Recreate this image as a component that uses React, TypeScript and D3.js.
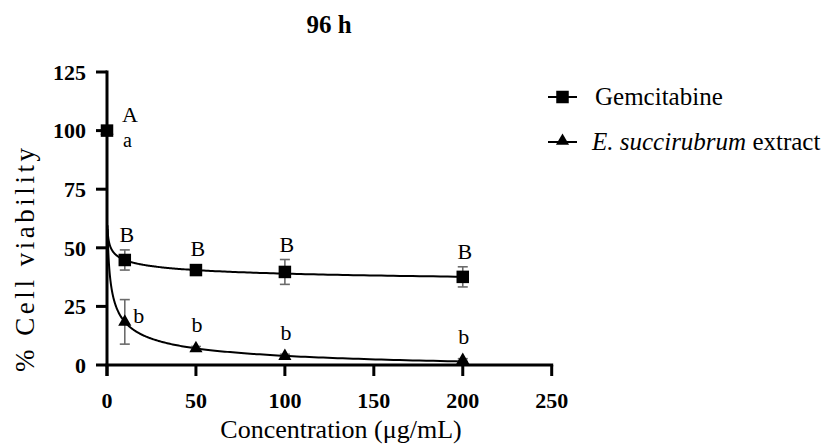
import React from "react";
import * as d3 from "d3";

// ---- data ----
const concentrations = [0, 10, 50, 100, 200];
const gemcitabine = [100, 44.8, 40.5, 39.7, 37.6];
const gemcitabineErr = [0, 4.3, 1.0, 5.3, 4.3];
const extract = [100, 18.4, 7.1, 3.8, 2.1];
const extractErr = [0, 9.5, 0.8, 0.8, 0.6];
const gemLetters = ["A", "B", "B", "B", "B"];
const extLetters = ["a", "b", "b", "b", "b"];
const xTicks = [0, 50, 100, 150, 200, 250];
const yTicks = [0, 25, 50, 75, 100, 125];

// fitted dose-response parameters (bottom, top, IC50, hill slope)
const gemFit = { bottom: 30, top: 100, ic50: 0.063, hill: 0.26 };
const extFit = { bottom: -5, top: 100, ic50: 0.78, hill: 0.49 };

const FONT = "'Liberation Serif', 'Times New Roman', serif";

function hill(p: { bottom: number; top: number; ic50: number; hill: number }, c: number) {
  return p.bottom + (p.top - p.bottom) / (1 + Math.pow(c / p.ic50, p.hill));
}

export default function App() {
  const W = 831;
  const H = 445;
  const x = d3.scaleLinear().domain([0, 250]).range([107, 551.7]);
  const y = d3.scaleLinear().domain([0, 125]).range([365, 72]);

  const samples = d3
    .range(0, 301)
    .map((i) => Math.pow(10, Math.log10(0.3) + (i / 300) * (Math.log10(200) - Math.log10(0.3))));
  const line = d3
    .line<number[]>()
    .x((d) => x(d[0]))
    .y((d) => y(d[1]));
  const gemPath = line(samples.map((c) => [c, hill(gemFit, c)])) || "";
  const extPath = line(samples.map((c) => [c, hill(extFit, c)])) || "";

  const tri = d3.symbol().type(d3.symbolTriangle).size(75)() || "";
  const sq = 12.5;

  const errColor = "#6b6b6b";

  return (
    <svg width={W} height={H} style={{ position: "absolute", left: 0, top: 0, background: "#fff" }}>
      <rect width={W} height={H} fill="#fff" />
      {/* title */}
      <text x={329} y={33} textAnchor="middle" fontFamily={FONT} fontWeight="bold" fontSize={25}>
        96 h
      </text>

      {/* fitted curves */}
      <path d={gemPath} fill="none" stroke="#000" strokeWidth={2} />
      <path d={extPath} fill="none" stroke="#000" strokeWidth={2} />

      {/* error bars */}
      {concentrations.map((c, i) =>
        [
          { v: gemcitabine[i], e: gemcitabineErr[i], k: "g" },
          { v: extract[i], e: extractErr[i], k: "e" },
        ].map((s) =>
          s.e > 0 ? (
            <g key={s.k + i} stroke={errColor} strokeWidth={1.6}>
              <line x1={x(c)} x2={x(c)} y1={y(s.v + s.e)} y2={y(s.v - s.e)} />
              <line x1={x(c) - 5} x2={x(c) + 5} y1={y(s.v + s.e)} y2={y(s.v + s.e)} />
              <line x1={x(c) - 5} x2={x(c) + 5} y1={y(s.v - s.e)} y2={y(s.v - s.e)} />
            </g>
          ) : null
        )
      )}

      {/* axes */}
      <g stroke="#000" strokeWidth={3} strokeLinecap="butt">
        <line x1={107} x2={107} y1={y(125) - 1.5} y2={376} />
        <line x1={105.5} x2={x(250) + 1.5} y1={y(0)} y2={y(0)} />
        {yTicks.map((t) => (
          <line key={"yt" + t} x1={96} x2={107} y1={y(t)} y2={y(t)} />
        ))}
        {xTicks.map((t) => (
          <line key={"xt" + t} x1={x(t)} x2={x(t)} y1={y(0)} y2={376} />
        ))}
      </g>
      {yTicks.map((t) => (
        <text
          key={"yl" + t}
          x={86}
          y={y(t)}
          dy="0.35em"
          textAnchor="end"
          fontFamily={FONT}
          fontWeight="bold"
          fontSize={22}
        >
          {t}
        </text>
      ))}
      {xTicks.map((t) => (
        <text
          key={"xl" + t}
          x={x(t)}
          y={400}
          dy="0.35em"
          textAnchor="middle"
          fontFamily={FONT}
          fontWeight="bold"
          fontSize={22}
        >
          {t}
        </text>
      ))}

      {/* axis titles */}
      <text x={341} y={438} textAnchor="middle" fontFamily={FONT} fontSize={26}>
        Concentration (μg/mL)
      </text>
      <text
        transform="translate(34,260) rotate(-90)"
        textAnchor="middle"
        fontFamily={FONT}
        fontSize={27}
        textLength={224}
        lengthAdjust="spacing"
      >
        % Cell viability
      </text>

      {/* markers */}
      {concentrations.map((c, i) => (
        <path key={"t" + i} d={tri} transform={`translate(${x(c)},${y(extract[i])})`} fill="#000" />
      ))}
      {concentrations.map((c, i) => (
        <rect
          key={"s" + i}
          x={x(c) - sq / 2}
          y={y(gemcitabine[i]) - sq / 2}
          width={sq}
          height={sq}
          fill="#000"
        />
      ))}

      {/* significance letters */}
      {concentrations.map((c, i) => {
        if (i === 0) {
          return (
            <g key={"lt" + i} fontFamily={FONT} fontSize={22}>
              <text x={x(c) + 15} y={y(gemcitabine[i]) - 9}>{gemLetters[i]}</text>
              <text x={x(c) + 16} y={y(extract[i]) + 16} fontSize={20}>{extLetters[i]}</text>
            </g>
          );
        }
        const gTop = y(gemcitabine[i] + Math.max(gemcitabineErr[i], 2.5));
        const eTop = y(extract[i] + Math.max(extractErr[i], 2.5));
        return (
          <g key={"lt" + i} fontFamily={FONT} fontSize={22}>
            <text x={x(c) + 2} y={gTop - 8} textAnchor="middle">{gemLetters[i]}</text>
            {i === 1 ? (
              <text x={x(c) + 14} y={y(extract[i]) + 1} textAnchor="middle">{extLetters[i]}</text>
            ) : (
              <text x={x(c) + 1} y={eTop - 10} textAnchor="middle">{extLetters[i]}</text>
            )}
          </g>
        );
      })}

      {/* legend */}
      <g>
        <line x1={548} x2={577} y1={97} y2={97} stroke="#000" strokeWidth={2} />
        <rect x={562.5 - sq / 2} y={97 - sq / 2} width={sq} height={sq} fill="#000" />
        <text x={595} y={105} fontFamily={FONT} fontSize={25}>
          Gemcitabine
        </text>
        <line x1={548} x2={577} y1={142} y2={142} stroke="#000" strokeWidth={2} />
        <path d={tri} transform="translate(562.5,141)" fill="#000" />
        <text x={592} y={150} fontFamily={FONT} fontSize={25}>
          <tspan fontStyle="italic">E. succirubrum</tspan>
          <tspan> extract</tspan>
        </text>
      </g>
    </svg>
  );
}
